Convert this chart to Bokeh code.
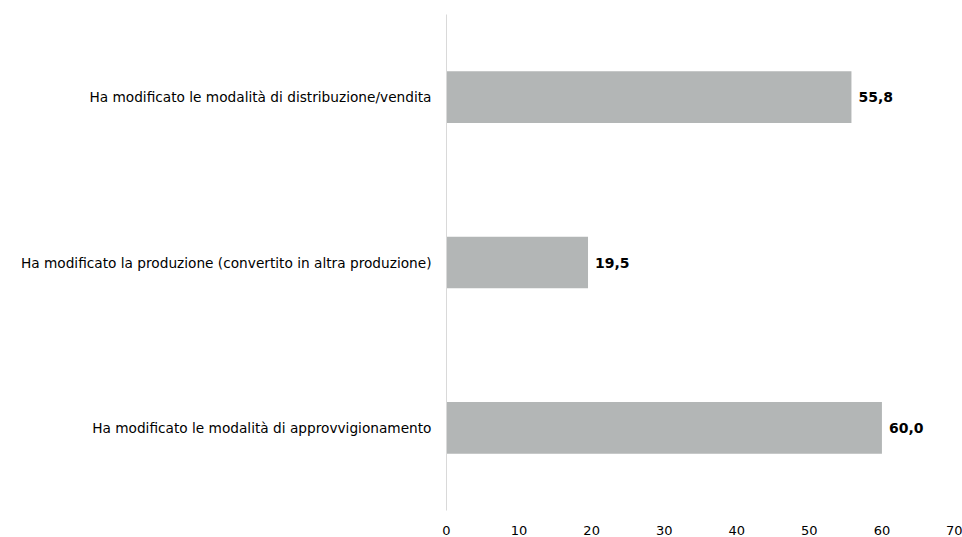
from bokeh.plotting import figure
from bokeh.models import ColumnDataSource, FixedTicker, FactorRange, Range1d
from bokeh.core.properties import value
from bokeh.embed import file_html
from bokeh.resources import INLINE

categories = [
    "Ha modificato le modalità di approvvigionamento",
    "Ha modificato la produzione (convertito in altra produzione)",
    "Ha modificato le modalità di distribuzione/vendita",
]
values = [60.0, 19.5, 55.8]
x_ticks = [0, 10, 20, 30, 40, 50, 60, 70]

labels = [f"{v:.1f}".replace(".", ",") for v in values]
src = ColumnDataSource(dict(cat=categories, val=values, lab=labels))

FONT = "DejaVu Sans"

p = figure(
    y_range=FactorRange(factors=categories),
    x_range=Range1d(0, 70),
    width=962, height=537,
    min_border_left=446, min_border_right=8, min_border_top=14, min_border_bottom=26,
    output_backend="svg", toolbar_location=None,
)
p.hbar(y="cat", right="val", left=0, height=0.313, source=src,
       fill_color="#B3B6B6", line_color=None)
p.text(x="val", y="cat", text="lab", source=src, x_offset=7,
       text_baseline="middle", text_align="left",
       text_font=value(FONT), text_font_size="14px", text_font_style="bold",
       text_color="#000000")

p.xgrid.visible = False
p.ygrid.visible = False
p.outline_line_color = None
p.background_fill_color = "white"
p.border_fill_color = "white"

p.xaxis.ticker = FixedTicker(ticks=x_ticks)
p.xaxis.axis_line_color = None
p.xaxis.major_tick_line_color = None
p.xaxis.minor_tick_line_color = None
p.xaxis.major_label_standoff = 9
p.xaxis.major_label_text_font = FONT
p.xaxis.major_label_text_font_size = "13px"
p.xaxis.major_label_text_color = "#000000"

p.yaxis.axis_line_color = "#D9D9D9"
p.yaxis.axis_line_width = 1
p.yaxis.major_tick_line_color = None
p.yaxis.minor_tick_line_color = None
p.yaxis.major_label_standoff = 9
p.yaxis.major_label_text_font = FONT
p.yaxis.major_label_text_font_size = "13.7px"
p.yaxis.major_label_text_color = "#000000"

open("out.html", "w").write(file_html(p, INLINE))
